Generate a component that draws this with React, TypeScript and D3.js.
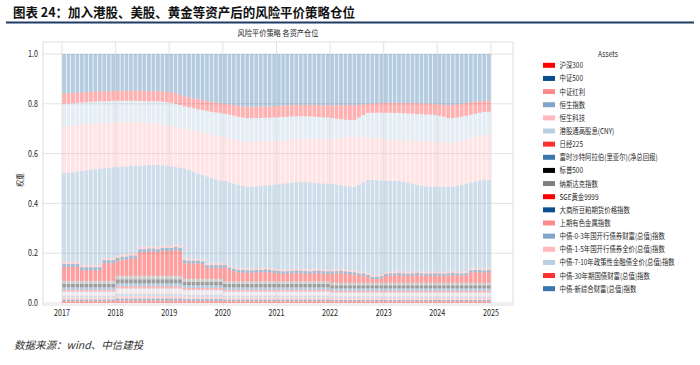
import React from "react";
import * as d3 from "d3";

// asset names, in stacking order (bottom first)
const assets = [
  "沪深300", "中证500", "中证红利", "恒生指数", "恒生科技", "港股通高股息(CNY)",
  "日经225", "富时沙特阿拉伯(里亚尔)(净总回报)", "标普500", "纳斯达克指数", "SGE黄金9999",
  "大商所豆粕期货价格指数", "上期有色金属指数", "中债-0-3年国开行债券财富(总值)指数",
  "中债-1-5年国开行债券全价(总值)指数", "中债-7-10年政策性金融债全价(总值)指数",
  "中债-30年期国债财富(总值)指数", "中债-新综合财富(总值)指数",
];

const colors = [
  "#ff0000", "#0b4f8a", "#ff8a8c", "#7ea6c9", "#ffb8be", "#b9cfe3", "#ff3030", "#3a76ae",
  "#000000", "#808080",
  "#ff0000", "#0b4f8a", "#ff8a8c", "#7ea6c9", "#ffb8be", "#b9cfe3", "#ff3030", "#3a76ae",
];

const yearTicks = ["2017", "2018", "2019", "2020", "2021", "2022", "2023", "2024", "2025"];

// monthly weights in percent, 2017-01 .. 2024-12 (one row per year)
const hs300 = [
  0.8, 0.8, 0.8, 0.8, 0.8, 0.8, 0.8, 0.8, 0.8, 0.8, 0.8, 0.8,
  1.0, 1.0, 1.0, 1.0, 1.0, 1.0, 1.0, 1.0, 1.0, 1.0, 1.0, 1.0,
  1.0, 1.0, 1.0, 0.9, 0.9, 0.9, 0.9, 0.9, 0.9, 0.9, 0.9, 0.9,
  0.8, 0.8, 0.8, 0.8, 0.8, 0.8, 0.8, 0.8, 0.8, 0.8, 0.8, 0.8,
  0.8, 0.8, 0.8, 0.8, 0.8, 0.8, 0.8, 0.8, 0.8, 0.8, 0.8, 0.8,
  0.7, 0.7, 0.7, 0.7, 0.7, 0.7, 0.7, 0.7, 0.7, 0.7, 0.7, 0.7,
  0.7, 0.7, 0.7, 0.7, 0.7, 0.7, 0.7, 0.7, 0.7, 0.7, 0.7, 0.7,
  0.7, 0.7, 0.7, 0.7, 0.7, 0.7, 0.7, 0.7, 0.7, 0.7, 0.7, 0.7,
];
const zz500 = [
  0.6, 0.6, 0.6, 0.6, 0.6, 0.6, 0.6, 0.6, 0.6, 0.6, 0.6, 0.6,
  0.8, 0.8, 0.8, 0.8, 0.8, 0.8, 0.8, 0.8, 0.8, 0.8, 0.8, 0.8,
  0.8, 0.8, 0.8, 0.7, 0.7, 0.7, 0.7, 0.7, 0.7, 0.7, 0.7, 0.7,
  0.6, 0.6, 0.6, 0.6, 0.6, 0.6, 0.6, 0.6, 0.6, 0.6, 0.6, 0.6,
  0.6, 0.6, 0.6, 0.6, 0.6, 0.6, 0.6, 0.6, 0.6, 0.6, 0.6, 0.6,
  0.5, 0.5, 0.5, 0.5, 0.5, 0.5, 0.5, 0.5, 0.5, 0.5, 0.5, 0.5,
  0.5, 0.5, 0.5, 0.5, 0.5, 0.5, 0.5, 0.5, 0.5, 0.5, 0.5, 0.5,
  0.5, 0.5, 0.5, 0.5, 0.5, 0.5, 0.5, 0.5, 0.5, 0.5, 0.5, 0.5,
];
const zzhl = [
  0.8, 0.8, 0.8, 0.8, 0.8, 0.8, 0.8, 0.8, 0.8, 0.8, 0.8, 0.8,
  1.0, 1.0, 1.0, 1.0, 1.0, 1.0, 1.0, 1.0, 1.0, 1.0, 1.0, 1.0,
  1.0, 1.0, 1.0, 0.9, 0.9, 0.9, 0.9, 0.9, 0.9, 0.9, 0.9, 0.9,
  0.8, 0.8, 0.8, 0.8, 0.8, 0.8, 0.8, 0.8, 0.8, 0.8, 0.8, 0.8,
  0.8, 0.8, 0.8, 0.8, 0.8, 0.8, 0.8, 0.8, 0.8, 0.8, 0.8, 0.8,
  0.8, 0.8, 0.8, 0.8, 0.8, 0.8, 0.8, 0.8, 0.8, 0.8, 0.8, 0.8,
  0.8, 0.8, 0.8, 0.8, 0.8, 0.8, 0.8, 0.8, 0.8, 0.8, 0.8, 0.8,
  0.8, 0.8, 0.8, 0.8, 0.8, 0.8, 0.8, 0.8, 0.8, 0.8, 0.8, 0.8,
];
const hsi = [
  0.8, 0.8, 0.8, 0.8, 0.8, 0.8, 0.8, 0.8, 0.8, 0.8, 0.8, 0.8,
  1.0, 1.0, 1.0, 1.0, 1.0, 1.0, 1.0, 1.0, 1.0, 1.0, 1.0, 1.0,
  1.0, 1.0, 1.0, 0.9, 0.9, 0.9, 0.9, 0.9, 0.9, 0.9, 0.9, 0.9,
  0.8, 0.8, 0.8, 0.8, 0.8, 0.8, 0.8, 0.8, 0.8, 0.8, 0.8, 0.8,
  0.8, 0.8, 0.8, 0.8, 0.8, 0.8, 0.8, 0.8, 0.8, 0.8, 0.8, 0.8,
  0.7, 0.7, 0.7, 0.7, 0.7, 0.7, 0.7, 0.7, 0.7, 0.7, 0.7, 0.7,
  0.7, 0.7, 0.7, 0.7, 0.7, 0.7, 0.7, 0.7, 0.7, 0.7, 0.7, 0.7,
  0.7, 0.7, 0.7, 0.7, 0.7, 0.7, 0.7, 0.7, 0.7, 0.7, 0.7, 0.7,
];
const hstech = [
  0.6, 0.6, 0.6, 0.6, 0.6, 0.6, 0.6, 0.6, 0.6, 0.6, 0.6, 0.6,
  0.8, 0.8, 0.8, 0.8, 0.8, 0.8, 0.8, 0.8, 0.8, 0.8, 0.8, 0.8,
  0.8, 0.8, 0.8, 0.7, 0.7, 0.7, 0.7, 0.7, 0.7, 0.7, 0.7, 0.7,
  0.6, 0.6, 0.6, 0.6, 0.6, 0.6, 0.6, 0.6, 0.6, 0.6, 0.6, 0.6,
  0.6, 0.6, 0.6, 0.6, 0.6, 0.6, 0.6, 0.6, 0.6, 0.6, 0.6, 0.6,
  0.5, 0.5, 0.5, 0.5, 0.5, 0.5, 0.5, 0.5, 0.5, 0.5, 0.5, 0.5,
  0.5, 0.5, 0.5, 0.5, 0.5, 0.5, 0.5, 0.5, 0.5, 0.5, 0.5, 0.5,
  0.5, 0.5, 0.5, 0.5, 0.5, 0.5, 0.5, 0.5, 0.5, 0.5, 0.5, 0.5,
];
const ggt = [
  1.0, 1.0, 1.0, 1.0, 1.0, 1.0, 1.0, 1.0, 1.0, 1.0, 1.0, 1.0,
  1.2, 1.2, 1.2, 1.2, 1.2, 1.2, 1.2, 1.2, 1.2, 1.2, 1.2, 1.2,
  1.2, 1.2, 1.2, 1.1, 1.1, 1.1, 1.1, 1.1, 1.1, 1.1, 1.1, 1.1,
  1.0, 1.0, 1.0, 1.0, 1.0, 1.0, 1.0, 1.0, 1.0, 1.0, 1.0, 1.0,
  1.0, 1.0, 1.0, 1.0, 1.0, 1.0, 1.0, 1.0, 1.0, 1.0, 1.0, 1.0,
  1.0, 1.0, 1.0, 1.0, 1.0, 1.0, 1.0, 1.0, 1.0, 1.0, 1.0, 1.0,
  1.0, 1.0, 1.0, 1.0, 1.0, 1.0, 1.0, 1.0, 1.0, 1.0, 1.0, 1.0,
  1.0, 1.0, 1.0, 1.0, 1.0, 1.0, 1.0, 1.0, 1.0, 1.0, 1.0, 1.0,
];
const nikkei = [
  0.7, 0.7, 0.7, 0.7, 0.7, 0.7, 0.7, 0.7, 0.7, 0.7, 0.7, 0.7,
  0.9, 0.9, 0.9, 0.9, 0.9, 0.9, 0.9, 0.9, 0.9, 0.9, 0.9, 0.9,
  0.9, 0.9, 0.9, 0.8, 0.8, 0.8, 0.8, 0.8, 0.8, 0.8, 0.8, 0.8,
  0.7, 0.7, 0.7, 0.7, 0.7, 0.7, 0.7, 0.7, 0.7, 0.7, 0.7, 0.7,
  0.7, 0.7, 0.7, 0.7, 0.7, 0.7, 0.7, 0.7, 0.7, 0.7, 0.7, 0.7,
  0.7, 0.7, 0.7, 0.7, 0.7, 0.7, 0.7, 0.7, 0.7, 0.7, 0.7, 0.7,
  0.7, 0.7, 0.7, 0.7, 0.7, 0.7, 0.7, 0.7, 0.7, 0.7, 0.7, 0.7,
  0.7, 0.7, 0.7, 0.7, 0.7, 0.7, 0.7, 0.7, 0.7, 0.7, 0.7, 0.7,
];
const saudi = [
  1.0, 1.0, 1.0, 1.0, 1.0, 1.0, 1.0, 1.0, 1.0, 1.0, 1.0, 1.0,
  1.2, 1.2, 1.2, 1.2, 1.2, 1.2, 1.2, 1.2, 1.2, 1.2, 1.2, 1.2,
  1.2, 1.2, 1.2, 1.1, 1.1, 1.1, 1.1, 1.1, 1.1, 1.1, 1.1, 1.1,
  1.0, 1.0, 1.0, 1.0, 1.0, 1.0, 1.0, 1.0, 1.0, 1.0, 1.0, 1.0,
  1.0, 1.0, 1.0, 1.0, 1.0, 1.0, 1.0, 1.0, 1.0, 1.0, 1.0, 1.0,
  1.0, 1.0, 1.0, 1.0, 1.0, 1.0, 1.0, 1.0, 1.0, 1.0, 1.0, 1.0,
  1.0, 1.0, 1.0, 1.0, 1.0, 1.0, 1.0, 1.0, 1.0, 1.0, 1.0, 1.0,
  1.0, 1.0, 1.0, 1.0, 1.0, 1.0, 1.0, 1.0, 1.0, 1.0, 1.0, 1.0,
];
const spx = [
  1.4, 1.4, 1.4, 1.4, 1.4, 1.4, 1.4, 1.4, 1.4, 1.4, 1.4, 1.4,
  1.6, 1.6, 1.6, 1.6, 1.6, 1.6, 1.6, 1.6, 1.6, 1.6, 1.6, 1.6,
  1.6, 1.6, 1.6, 1.4, 1.4, 1.4, 1.4, 1.4, 1.4, 1.4, 1.4, 1.4,
  1.3, 1.3, 1.3, 1.3, 1.3, 1.3, 1.3, 1.3, 1.3, 1.3, 1.3, 1.3,
  1.3, 1.3, 1.3, 1.3, 1.3, 1.3, 1.3, 1.3, 1.3, 1.3, 1.3, 1.3,
  1.2, 1.2, 1.2, 1.2, 1.2, 1.2, 1.2, 1.2, 1.2, 1.2, 1.2, 1.2,
  1.2, 1.2, 1.2, 1.2, 1.2, 1.2, 1.2, 1.2, 1.2, 1.2, 1.2, 1.2,
  1.2, 1.2, 1.2, 1.2, 1.2, 1.2, 1.2, 1.2, 1.2, 1.2, 1.2, 1.2,
];
const nasdaq = [
  1.2, 1.2, 1.2, 1.2, 1.2, 1.2, 1.2, 1.2, 1.2, 1.2, 1.2, 1.2,
  1.4, 1.4, 1.4, 1.4, 1.4, 1.4, 1.4, 1.4, 1.4, 1.4, 1.4, 1.4,
  1.4, 1.4, 1.4, 1.2, 1.2, 1.2, 1.2, 1.2, 1.2, 1.2, 1.2, 1.2,
  1.1, 1.1, 1.1, 1.1, 1.1, 1.1, 1.1, 1.1, 1.1, 1.1, 1.1, 1.1,
  1.1, 1.1, 1.1, 1.1, 1.1, 1.1, 1.1, 1.1, 1.1, 1.1, 1.1, 1.1,
  1.0, 1.0, 1.0, 1.0, 1.0, 1.0, 1.0, 1.0, 1.0, 1.0, 1.0, 1.0,
  1.0, 1.0, 1.0, 1.0, 1.0, 1.0, 1.0, 1.0, 1.0, 1.0, 1.0, 1.0,
  1.0, 1.0, 1.0, 1.0, 1.0, 1.0, 1.0, 1.0, 1.0, 1.0, 1.0, 1.0,
];
const gold = [
  5.6, 5.6, 5.6, 5.6, 4.3, 4.3, 4.3, 4.3, 4.3, 7.1, 7.1, 7.1,
  6.0, 6.5, 6.5, 7.0, 7.0, 9.5, 9.5, 9.8, 9.8, 9.5, 10.0, 10.0,
  10.0, 10.5, 10.0, 6.4, 6.2, 6.2, 6.2, 5.9, 4.4, 4.4, 4.4, 4.4,
  5.6, 4.6, 4.1, 3.6, 3.6, 3.4, 3.4, 3.6, 3.6, 3.8, 3.6, 3.4,
  3.2, 3.0, 3.1, 3.2, 3.4, 3.2, 3.1, 3.0, 3.2, 3.3, 3.1, 3.0,
  3.7, 3.8, 3.9, 3.7, 3.5, 3.3, 2.9, 2.9, 2.3, 1.5, 1.5, 1.8,
  2.7, 2.9, 2.9, 3.1, 2.9, 2.8, 2.9, 3.1, 2.9, 2.8, 2.9, 2.9,
  2.9, 2.7, 2.9, 3.1, 2.9, 2.9, 3.0, 4.1, 4.3, 4.3, 4.1, 4.3,
];
const soymeal = [
  1.2, 1.2, 1.2, 1.2, 1.2, 1.2, 1.2, 1.2, 1.2, 1.2, 1.2, 1.2,
  1.2, 1.2, 1.2, 1.2, 1.2, 1.2, 1.2, 1.2, 1.2, 1.2, 1.2, 1.2,
  1.2, 1.2, 1.2, 1.1, 1.1, 1.1, 1.1, 1.1, 1.1, 1.1, 1.1, 1.1,
  1.0, 1.0, 1.0, 1.0, 1.0, 1.0, 1.0, 1.0, 1.0, 1.0, 1.0, 1.0,
  1.0, 1.0, 1.0, 1.0, 1.0, 1.0, 1.0, 1.0, 1.0, 1.0, 1.0, 1.0,
  0.9, 0.9, 0.9, 0.9, 0.9, 0.9, 0.9, 0.9, 0.9, 0.9, 0.9, 0.9,
  0.9, 0.9, 0.9, 0.9, 0.9, 0.9, 0.9, 0.9, 0.9, 0.9, 0.9, 0.9,
  0.9, 0.9, 0.9, 0.9, 0.9, 0.9, 0.9, 0.9, 0.9, 0.9, 0.9, 0.9,
];
const metals = [
  0.8, 0.8, 0.8, 0.8, 0.8, 0.8, 0.8, 0.8, 0.8, 0.8, 0.8, 0.8,
  0.9, 0.9, 0.9, 0.9, 0.9, 0.9, 0.9, 0.9, 0.9, 0.9, 0.9, 0.9,
  0.9, 0.9, 0.9, 0.8, 0.8, 0.8, 0.8, 0.8, 0.8, 0.8, 0.8, 0.8,
  0.7, 0.7, 0.7, 0.7, 0.7, 0.7, 0.7, 0.7, 0.7, 0.7, 0.7, 0.7,
  0.7, 0.7, 0.7, 0.7, 0.7, 0.7, 0.7, 0.7, 0.7, 0.7, 0.7, 0.7,
  0.7, 0.7, 0.7, 0.7, 0.7, 0.7, 0.7, 0.7, 0.7, 0.7, 0.7, 0.7,
  0.7, 0.7, 0.7, 0.7, 0.7, 0.7, 0.7, 0.7, 0.7, 0.7, 0.7, 0.7,
  0.7, 0.7, 0.7, 0.7, 0.7, 0.7, 0.7, 0.7, 0.7, 0.7, 0.7, 0.7,
];
const bond03 = [
  35.6, 35.8, 36.0, 36.3, 37.8, 38.1, 38.3, 38.5, 38.7, 36.1, 36.3, 36.5,
  35.6, 35.2, 35.3, 35.0, 35.1, 32.7, 32.8, 32.6, 32.6, 32.9, 32.3, 32.1,
  31.9, 31.1, 31.3, 36.0, 35.6, 35.0, 34.2, 34.0, 34.8, 34.2, 33.6, 33.2,
  33.0, 33.5, 33.5, 33.5, 33.0, 32.9, 32.9, 32.8, 33.0, 33.0, 33.3, 33.7,
  34.1, 34.5, 34.6, 34.7, 34.7, 35.0, 35.1, 35.1, 34.7, 34.4, 34.5, 34.5,
  34.4, 34.1, 33.7, 33.6, 33.6, 33.7, 34.9, 35.9, 37.4, 38.2, 38.1, 37.7,
  36.7, 36.4, 36.4, 36.2, 36.0, 35.7, 35.2, 34.6, 34.5, 34.4, 34.1, 34.1,
  34.1, 34.3, 34.1, 34.0, 34.4, 34.8, 35.2, 34.6, 34.8, 35.2, 35.6, 35.4,
];
const bond15 = [
  18.7, 18.7, 18.7, 18.6, 18.6, 18.5, 18.5, 18.4, 18.3, 18.3, 18.2, 18.1,
  18.1, 18.1, 18.0, 17.8, 17.6, 17.4, 17.2, 17.0, 16.8, 16.6, 16.5, 16.4,
  16.3, 16.3, 16.2, 16.0, 16.2, 16.4, 16.8, 16.9, 17.2, 17.4, 17.6, 17.7,
  17.6, 17.7, 17.8, 17.9, 18.0, 18.1, 18.1, 18.0, 17.9, 17.8, 17.7, 17.6,
  17.5, 17.4, 17.4, 17.3, 17.3, 17.3, 17.4, 17.5, 17.7, 17.8, 17.8, 17.9,
  18.2, 18.6, 19.1, 19.6, 20.0, 20.1, 19.2, 18.1, 17.1, 16.9, 16.9, 16.8,
  16.7, 16.7, 16.6, 16.5, 16.8, 17.1, 17.4, 17.7, 17.9, 18.0, 18.1, 18.1,
  17.9, 17.7, 17.5, 17.6, 17.8, 17.8, 17.8, 17.8, 17.9, 17.9, 18.1, 18.1,
];
const bond710 = [
  9.2, 9.1, 9.0, 9.0, 8.9, 8.8, 8.8, 8.8, 8.8, 8.6, 8.6, 8.6,
  8.5, 8.4, 8.4, 8.4, 8.5, 8.5, 8.6, 8.6, 8.8, 9.0, 9.0, 9.1,
  9.2, 9.1, 9.0, 9.0, 9.0, 9.0, 9.0, 9.1, 9.2, 9.2, 9.3, 9.3,
  9.4, 9.4, 9.4, 9.4, 9.5, 9.4, 9.4, 9.5, 9.4, 9.4, 9.4, 9.4,
  9.4, 9.4, 9.3, 9.3, 9.2, 9.1, 9.0, 8.9, 8.8, 8.8, 8.8, 8.7,
  8.3, 7.8, 7.4, 7.0, 6.7, 6.7, 7.8, 8.9, 9.8, 10.1, 10.2, 10.4,
  10.6, 10.7, 10.7, 10.8, 10.8, 10.8, 10.8, 10.8, 10.8, 10.8, 10.8, 10.7,
  10.6, 10.4, 10.0, 9.9, 9.7, 9.6, 9.5, 9.4, 9.3, 9.3, 9.3, 9.3,
];
const bond30 = [
  4.2, 4.2, 4.2, 4.1, 4.1, 4.1, 4.0, 4.0, 4.0, 4.0, 4.0, 4.0,
  4.0, 4.1, 4.1, 4.1, 4.1, 4.2, 4.1, 4.2, 4.1, 4.0, 4.1, 4.2,
  4.2, 4.2, 4.1, 4.0, 4.0, 4.0, 4.0, 4.0, 4.0, 4.0, 4.0, 4.0,
  4.0, 4.2, 4.3, 4.4, 4.5, 4.6, 4.6, 4.5, 4.6, 4.6, 4.6, 4.6,
  4.6, 4.6, 4.6, 4.6, 4.5, 4.6, 4.6, 4.7, 4.7, 4.8, 4.8, 4.9,
  5.1, 5.4, 5.6, 5.9, 6.0, 6.0, 5.1, 4.3, 3.7, 3.7, 3.8, 3.9,
  3.9, 4.0, 4.1, 4.1, 4.2, 4.2, 4.3, 4.3, 4.3, 4.4, 4.4, 4.5,
  4.6, 4.8, 5.3, 5.3, 5.3, 5.2, 5.1, 5.0, 4.9, 4.7, 4.4, 4.4,
];
const bondAll = [
  15.8, 15.7, 15.6, 15.5, 15.4, 15.3, 15.2, 15.1, 15.0, 15.0, 14.9, 14.8,
  14.8, 14.7, 14.7, 14.7, 14.7, 14.7, 14.8, 14.8, 14.9, 15.0, 15.1, 15.2,
  15.4, 15.8, 16.4, 17.0, 17.4, 17.8, 18.2, 18.5, 18.8, 19.2, 19.5, 19.8,
  20.0, 20.2, 20.5, 20.8, 21.0, 21.2, 21.2, 21.2, 21.1, 21.0, 21.0, 20.9,
  20.8, 20.7, 20.6, 20.5, 20.5, 20.4, 20.4, 20.4, 20.5, 20.5, 20.6, 20.6,
  20.6, 20.6, 20.6, 20.5, 20.5, 20.5, 20.4, 20.2, 20.0, 19.9, 19.8, 19.7,
  19.7, 19.6, 19.6, 19.6, 19.6, 19.7, 19.7, 19.8, 19.9, 19.9, 20.0, 20.0,
  20.2, 20.4, 20.5, 20.4, 20.2, 20.0, 19.7, 19.4, 19.1, 18.9, 18.8, 18.8,
];

const seriesValues = [
  hs300, zz500, zzhl, hsi, hstech, ggt, nikkei, saudi, spx, nasdaq, gold,
  soymeal, metals, bond03, bond15, bond710, bond30, bondAll,
];

const FONT = "'Noto Sans CJK SC', 'Noto Sans', sans-serif";

// condensed text, the source chart uses a narrow face
function Label( { x, y, size = 8, sx = 0.8, anchor = "start", weight = "normal", fill = "#262626", rotate = 0, children }: any ) {
  return (
    <text
      transform={ `translate(${ x },${ y }) rotate(${ rotate }) scale(${ sx },1)` }
      fontSize={ size } fontFamily={ FONT } textAnchor={ anchor } fontWeight={ weight } fill={ fill }
    >
      { children }
    </text>
  );
}

export default function App() {
  const months = d3.timeMonth.range( new Date( 2017, 0, 1 ), new Date( 2025, 0, 1 ) );

  const rows = months.map( ( m, i ) => {
    const r: any = { date: m };
    assets.forEach( ( a, k ) => { r[ a ] = seriesValues[ k ][ i ] / 100; } );
    return r;
  });

  const stacked = d3.stack<any>().keys( assets )( rows );

  const x = d3.scaleTime()
    .domain( [ new Date( 2017, 0, 1 ), new Date( 2025, 0, 1 ) ] )
    .range( [ 62, 491 ] );
  const y = d3.scaleLinear().domain( [ 0, 1 ] ).range( [ 303, 54 ] );

  const frame = { left: 43, right: 513, top: 42, bottom: 305 };
  const yTicks = y.ticks( 5 );
  const xTicks = yearTicks.map( t => new Date( +t, 0, 1 ) );

  return (
    <svg width={ 700 } height={ 365 } style={ { position: "absolute", left: 0, top: 0, background: "#fff" } }>
      <text x={ 13 } y={ 17 } fontSize={ 13 } fontWeight="bold" fontFamily={ FONT } fill="#111"
        textLength={ 342 } lengthAdjust="spacingAndGlyphs">
        图表 24：加入港股、美股、黄金等资产后的风险平价策略仓位
      </text>
      <line x1={ 6 } x2={ 694 } y1={ 22.5 } y2={ 22.5 } stroke="#1f3b66" strokeWidth={ 2 } />

      <Label x={ 278 } y={ 36 } size={ 8.5 } sx={ 0.85 } anchor="middle">风险平价策略 各资产仓位</Label>

      {/* grid */}
      <g stroke="#e3e3e3" strokeWidth={ 1 }>
        { yTicks.map( t => (
          <line key={ "gy" + t } x1={ frame.left } x2={ frame.right } y1={ y( t ) } y2={ y( t ) } />
        ))}
        { xTicks.map( t => (
          <line key={ "gx" + t.getFullYear() } x1={ x( t ) } x2={ x( t ) } y1={ frame.top } y2={ frame.bottom } />
        ))}
      </g>
      <rect x={ frame.left } y={ frame.top } width={ frame.right - frame.left } height={ frame.bottom - frame.top }
        fill="none" stroke="#dedede" />

      {/* stacked monthly bars */}
      { stacked.map( ( layer, k ) => (
        <g key={ assets[ k ] } fill={ colors[ k ] } fillOpacity={ 0.38 }>
          { layer.map( ( d, i ) => {
            const x0 = x( months[ i ] );
            const x1 = x( d3.timeMonth.offset( months[ i ], 1 ) );
            return (
              <rect key={ i } x={ x0 + 0.3 } width={ x1 - x0 - 0.7 }
                y={ y( d[ 1 ] ) } height={ y( d[ 0 ] ) - y( d[ 1 ] ) } />
            );
          })}
        </g>
      ))}

      {/* axes labels */}
      { yTicks.map( t => (
        <Label key={ "ly" + t } x={ 38 } y={ y( t ) + 3.2 } size={ 9 } sx={ 0.8 } anchor="end">{ d3.format( ".1f" )( t ) }</Label>
      ))}
      { xTicks.map( ( t, i ) => (
        <Label key={ "lx" + i } x={ x( t ) } y={ 316 } size={ 9 } sx={ 0.8 } anchor="middle">{ yearTicks[ i ] }</Label>
      ))}
      <Label x={ 23 } y={ 180 } size={ 8 } sx={ 0.85 } anchor="middle" rotate={ -90 }>权重</Label>

      {/* legend */}
      <Label x={ 608 } y={ 57 } size={ 8 } sx={ 0.85 } anchor="middle">Assets</Label>
      { assets.map( ( a, i ) => {
        const yc = 65.3 + i * 13.14;
        return (
          <g key={ "lg" + a }>
            <rect x={ 543 } y={ yc - 2.5 } width={ 12 } height={ 5 } fill={ colors[ i ] } />
            <Label x={ 559.5 } y={ yc + 3 } size={ 8 } sx={ 0.8 }>{ a }</Label>
          </g>
        );
      })}

      <text x={ 14 } y={ 349 } fontSize={ 10.5 } fontStyle="italic" fontFamily={ FONT } fill="#333">
        数据来源：wind、中信建投
      </text>
    </svg>
  );
}
